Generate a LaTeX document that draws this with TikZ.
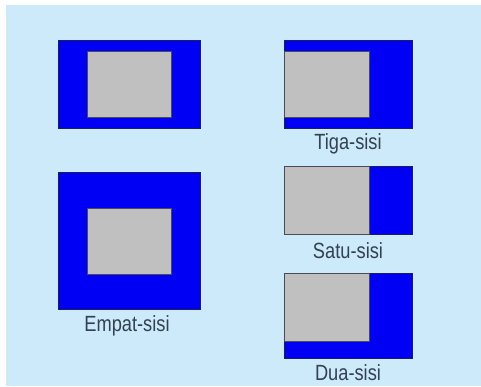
\documentclass[tikz,border=0pt]{standalone}
\usepackage{fontspec}
\setmainfont{Liberation Sans}
\definecolor{bgblue}{HTML}{CDEAFB}
\definecolor{panelblue}{HTML}{0000F5}
\definecolor{panelgray}{HTML}{C0C0C0}
\definecolor{edge}{HTML}{1C1C60}
\definecolor{graedge}{HTML}{4A4A5A}
\definecolor{txt}{HTML}{334150}
\begin{document}
\begin{tikzpicture}[x=1pt,y=-1pt,
  outerbox/.style={fill=panelblue,draw=edge,line width=0.9pt},
  innerbox/.style={fill=panelgray,draw=graedge,line width=0.9pt},
  caption/.style={text=txt,font=\fontsize{22}{22}\selectfont,xscale=0.83,inner sep=0pt}]
\useasboundingbox (0,0) rectangle (481,387);
\fill[white] (0,0) rectangle (481,387);
\fill[bgblue] (6,5) rectangle (481,386);
% top-left
\draw[outerbox] (58,40) rectangle (200,128);
\draw[innerbox] (87,51) rectangle (171,117);
% Tiga-sisi
\draw[outerbox] (284,40) rectangle (412,128);
\draw[innerbox] (284,51) rectangle (369,117);
\node[caption] (tiga) at (348,144) {Tiga-sisi};
% Empat-sisi
\draw[outerbox] (58,172) rectangle (200,309);
\draw[innerbox] (87,208) rectangle (171,274);
\node[caption] (empat) at (127,326) {Empat-sisi};
% Satu-sisi
\draw[outerbox] (284,166) rectangle (412,234);
\draw[innerbox] (284,166) rectangle (369,234);
\node[caption] (satu) at (348,251) {Satu-sisi};
% Dua-sisi
\draw[outerbox] (284,273) rectangle (412,358);
\draw[innerbox] (284,273) rectangle (369,341);
\node[caption] (dua) at (348,373) {Dua-sisi};
\end{tikzpicture}
\end{document}
